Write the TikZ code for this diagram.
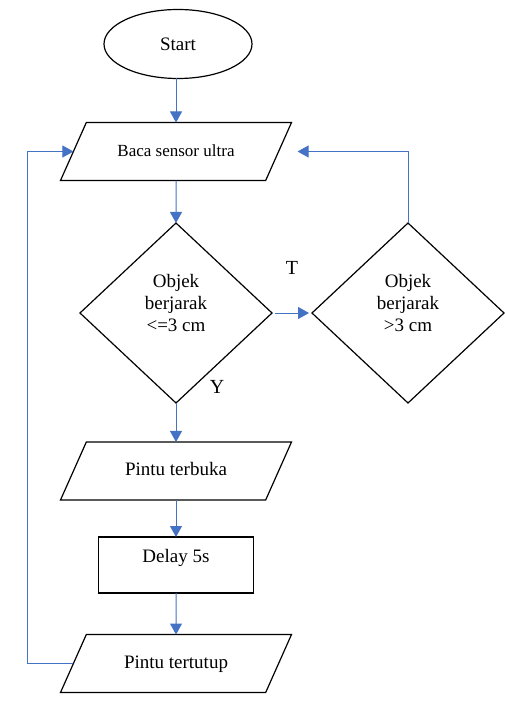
\documentclass[tikz,border=0pt]{standalone}
\usepackage{fontspec}
\setmainfont{Liberation Serif}
\usetikzlibrary{shapes.geometric}
\usetikzlibrary{arrows.meta}

\definecolor{flowblue}{RGB}{68,114,196}

\tikzset{
  box/.style={draw=black, line width=1.2pt, outer sep=0pt, inner sep=2pt,
    font=\fontsize{19}{22}\selectfont, align=center},
  terminal/.style={box, ellipse, minimum width=148pt, minimum height=69pt},
  io/.style={box, trapezium, trapezium left angle=66, trapezium right angle=114,
    trapezium stretches body, text height=13pt, text depth=4pt, inner ysep=20.5pt,
    minimum width=231pt},
  process/.style={box, rectangle, minimum width=155pt, minimum height=56pt, text depth=18pt},
  decision/.style={box, diamond, minimum width=192pt, minimum height=180pt, text depth=20pt},
  flow/.style={draw=flowblue, line width=1pt, -{Triangle[length=11pt,width=12pt]}},
  answer/.style={font=\fontsize{20}{24}\selectfont}
}

\begin{document}
\begin{tikzpicture}[x=1pt, y=-1pt]
	\useasboundingbox (0,0) rectangle (504,706);
	\coordinate (kiri) at (27,0);

	\node[terminal] (start) at (178,44) {Start};
	\node[io, font=\fontsize{17}{20}\selectfont] (baca) at (176,151.5) {Baca sensor ultra};
	\node[decision] (dekat) at (176,313) {Objek\\berjarak\\<=3 cm};
	\node[decision] (jauh) at (408,313) {Objek\\berjarak\\>3 cm};
	\node[io] (buka) at (176,471) {Pintu terbuka};
	\node[process] (delay) at (176,565) {Delay 5s};
	\node[io] (tutup) at (176,663.5) {Pintu tertutup};

	% jawaban keputusan
	\node[answer] (lblT) at (292,268) {T};
	\node[answer] (lblY) at (217,387) {Y};

	% alur utama
	\draw[flow] (start.south -| baca.north) -- (baca.north);
	\draw[flow] (baca) -- (dekat);
	\draw[flow] (dekat) -- (buka);
	\draw[flow] (buka) -- (delay);
	\draw[flow] (delay) -- (tutup);
	\draw[flow] ([xshift=3pt]dekat.east) -- ([xshift=-3pt]jauh.west);

	% kembali ke pembacaan sensor
	\draw[flow] (jauh.north) |- ([xshift=19pt]baca.right side);
	\draw[flow] (tutup.left side) -- (tutup.left side -| kiri) |- (baca.left side);
\end{tikzpicture}
\end{document}
